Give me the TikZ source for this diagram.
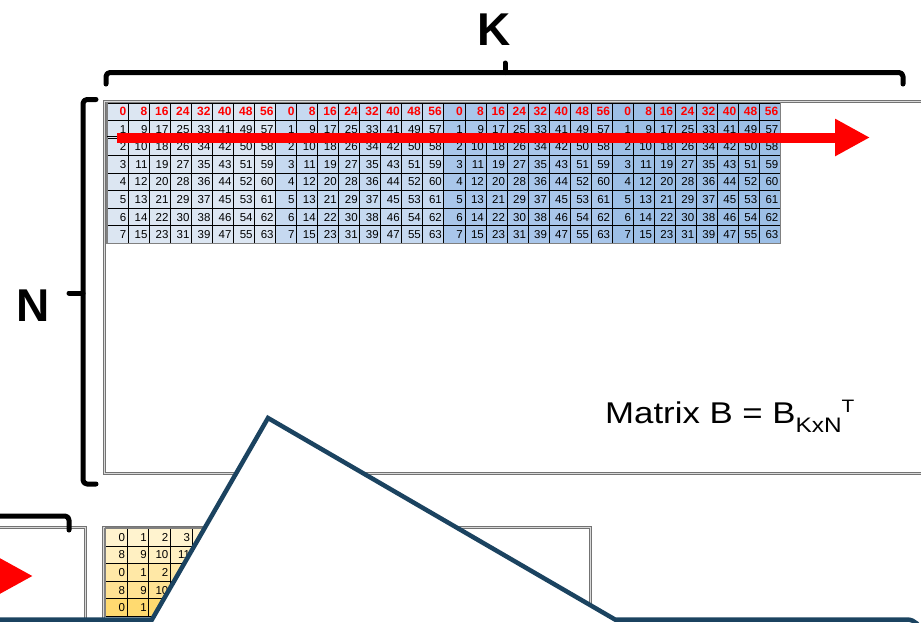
\documentclass[tikz,border=0pt]{standalone}
\usepackage{fontspec}
\setmainfont{Liberation Sans}
\usetikzlibrary{arrows.meta}

% block shades of the B tiles
\definecolor{blk0}{HTML}{DCE6F2}
\definecolor{blk1}{HTML}{C6D9F0}
\definecolor{blk2}{HTML}{A9C6EA}
\definecolor{blk3}{HTML}{9DBFE6}
% row shades of the A tiles
\definecolor{yel0}{HTML}{FFF3CF}
\definecolor{yel1}{HTML}{FFF0C2}
\definecolor{yel2}{HTML}{FFE8A6}
\definecolor{yel3}{HTML}{FFE293}
\definecolor{yel4}{HTML}{FFDA70}
\definecolor{calloutline}{HTML}{1B4360}
\definecolor{arrowred}{HTML}{FF0000}

\begin{document}
\begin{tikzpicture}[x=1pt,y=-1pt,
  brace/.style={draw=black,line width=5pt,line cap=round,line join=round,rounded corners=4pt},
  winframe/.style={draw=black!55,line width=1pt,double=black!15,double distance=1pt},
  bcell/.style={draw=black,line width=0.7pt,text width=17.03pt,inner xsep=2pt,inner ysep=0pt,
    minimum height=17.56pt,align=right,anchor=north west,text height=8.2pt,text depth=0pt,
    font=\fontsize{11.5}{11.5}\selectfont},
  bhead/.style={bcell,text=arrowred,font=\bfseries\fontsize{12}{12}\selectfont},
  acell/.style={bcell,text width=17.6pt},
  bigarrow/.style={draw=arrowred,line width=10pt,-{Triangle[length=35pt,width=35pt]}},
  callout/.style={draw=calloutline,fill=white,line width=4.5pt,line join=miter},
  dimlabel/.style={font=\bfseries\fontsize{46}{46}\selectfont,anchor=base,inner sep=0pt}
]
\useasboundingbox (0,0) rectangle (921,622);

% ---- matrix B frame and its K / N braces
\path[winframe] (104,101) rectangle (960,473);
\draw[brace] (106,84) -- (106,72.5) -- (903,72.5) -- (903,84);
\draw[brace] (505,72.5) -- (505,63);
\node[dimlabel] (klabel) at (494,45) {K};
\draw[brace] (96,99.5) -- (83,99.5) -- (83,484) -- (96,484);
\draw[brace] (83,293) -- (69,293);
\node[dimlabel] (nlabel) at (33,321) {N};

% ---- tiles of B: 4 blocks of 8 columns, 8 rows
\foreach \k in {0,...,31}{
  \pgfmathtruncatemacro\c{mod(\k,8)}
  \pgfmathtruncatemacro\b{int(\k/8)}
  \foreach \r in {0,...,7}{
    \pgfmathtruncatemacro\v{\r+8*\c}
    \ifnum\r=0
      \node[bhead,fill=blk\b] (b-\r-\k) at ({107+\k*21.03},{102.5+\r*17.56}) {\v};
    \else
      \node[bcell,fill=blk\b] (b-\r-\k) at ({107+\k*21.03},{102.5+\r*17.56}) {\v};
    \fi
  }
}
\draw[black!50,line width=1.2pt] (b-0-0.north west) rectangle (b-7-31.south east);
\draw[black,line width=0.8pt] (107,136.8) -- (117,136.8);
\coordinate (rowstart) at (117,137.5);
\coordinate (rowend) at (870,137.5);
\draw[bigarrow] (rowstart) -- (rowend);

\node[font=\fontsize{30}{30}\selectfont,anchor=base west,inner sep=0pt] (blabel) at (605,423.5)
  {\scalebox{1.16}[1]{Matrix B = B\raisebox{-8.5pt}{\fontsize{21}{21}\selectfont KxN}\raisebox{11.5pt}{\fontsize{18}{18}\selectfont T}}};

% ---- matrix A frame, brace and arrow (lower left)
\path[winframe] (-20,527.5) rectangle (85,680);
\draw[brace] (-10,516) -- (69,516) -- (69,530);
\coordinate (astart) at (-80,576);
\coordinate (aend) at (33,576);
\draw[bigarrow] (astart) -- (aend);

% ---- tiles of A
\path[winframe] (103,527.5) rectangle (590,680);
\foreach \k in {0,...,7}{
  \foreach \r in {0,...,4}{
    \pgfmathtruncatemacro\v{\k+8*mod(\r,2)}
    \node[acell,fill=yel\r] (a-\r-\k) at ({105+\k*21.7},{528+\r*17.6}) {\v};
  }
}
\draw[black!50,line width=1.2pt] (a-0-0.north west) -- (a-4-0.south west);
\draw[black!50,line width=1.2pt] (a-0-0.north west) -- (a-0-7.north east);

% ---- callout with its pointer
\path[callout] (-20,619.5) -- (152,619.5) -- (268,418) -- (615,619.5)
  [rounded corners=14pt] -- (921,619.5) -- (921,700) [sharp corners] -- (-20,700) -- cycle;
\end{tikzpicture}
\end{document}
